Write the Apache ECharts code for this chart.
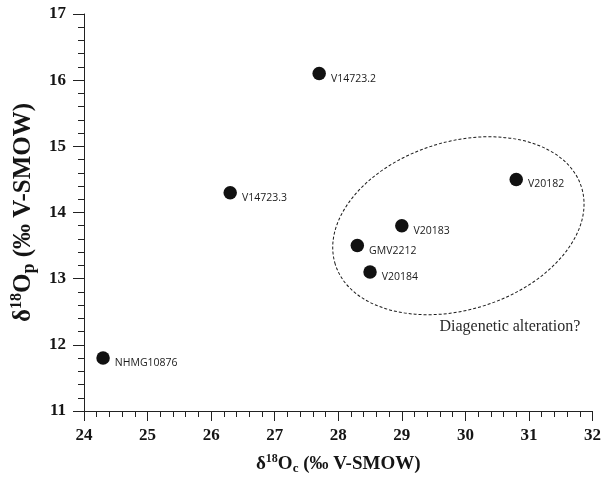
<!DOCTYPE html>
<html><head><meta charset="utf-8">
<script src="https://cdn.jsdelivr.net/npm/echarts@6/dist/echarts.min.js"></script>
<style>html,body{margin:0;padding:0;background:#fff}#c{width:604px;height:480px}</style>
</head><body><div id="c"></div><script>
// ---- data ----
const sampleNames = ['NHMG10876', 'V14723.3', 'V14723.2', 'GMV2212', 'V20184', 'V20183', 'V20182'];
const d18Oc = [24.3, 26.3, 27.7, 28.3, 28.5, 29.0, 30.8];
const d18Op = [11.8, 14.3, 16.1, 13.5, 13.1, 13.8, 14.5];
const xRange = [24, 32];
const yRange = [11, 17];
const ellipseCenter = [29.89, 13.80];
const annotationText = 'Diagenetic alteration?';
const annotationAnchor = [30.7, 12.28];

const points = sampleNames.map((n, i) => ({ name: n, value: [d18Oc[i], d18Op[i]] }));

const serif = 'Liberation Serif';
const ink = '#151515';
const tickLabel = { color: ink, fontFamily: serif, fontWeight: 'bold', fontSize: 17 };
function nameRich(size) {
  return {
    b: { fontFamily: serif, fontWeight: 'bold', fontSize: size, color: ink },
    sup: { fontFamily: serif, fontWeight: 'bold', fontSize: Math.round(size * 0.62), color: ink, padding: [0, 0, Math.round(size * 0.5), 0] },
    sub: { fontFamily: serif, fontWeight: 'bold', fontSize: Math.round(size * 0.7), color: ink, padding: [Math.round(size * 0.45), 0, 0, 0] }
  };
}

const chart = echarts.init(document.getElementById('c'), null, { renderer: 'canvas' });
chart.setOption({
  animation: false,
  backgroundColor: '#fff',
  grid: { left: 84, right: 9, top: 14, bottom: 68 },
  xAxis: {
    type: 'value', min: xRange[0], max: xRange[1], interval: 1,
    name: '{b|δ}{sup|18}{b|O}{sub|c}{b| (‰ V-SMOW)}',
    nameLocation: 'middle', nameGap: 42,
    nameTextStyle: { rich: nameRich(19) },
    axisLine: { show: true, lineStyle: { color: '#222', width: 1 } },
    axisTick: { show: true, length: 10, lineStyle: { color: '#222' } },
    minorTick: { show: true, splitNumber: 5, length: 6, lineStyle: { color: '#222' } },
    splitLine: { show: false },
    axisLabel: Object.assign({ margin: 16 }, tickLabel)
  },
  yAxis: {
    type: 'value', min: yRange[0], max: yRange[1], interval: 1,
    name: '{b|δ}{sup|18}{b|O}{sub|p}{b| (‰ V-SMOW)}',
    nameLocation: 'middle', nameGap: 44,
    nameTextStyle: { rich: nameRich(25) },
    axisLine: { show: true, lineStyle: { color: '#222', width: 1 } },
    axisTick: { show: true, length: 11, lineStyle: { color: '#222' } },
    minorTick: { show: true, splitNumber: 5, length: 6, lineStyle: { color: '#222' } },
    splitLine: { show: false },
    axisLabel: Object.assign({ margin: 18 }, tickLabel)
  },
  series: [
    {
      type: 'scatter',
      data: points,
      symbol: 'circle',
      symbolSize: 13.5,
      itemStyle: { color: '#111', opacity: 1 },
      label: {
        show: true, position: 'right', distance: 5, offset: [0, 5],
        formatter: p => p.name,
        fontFamily: 'Open Sans', fontSize: 10.5, color: '#1a1a1a'
      }
    },
    {
      type: 'custom',
      clip: false,
      silent: true,
      data: [ellipseCenter],
      renderItem: function (params, api) {
        const c = api.coord([api.value(0), api.value(1)]);
        return {
          type: 'ellipse',
          x: c[0], y: c[1],
          rotation: 17.4 * Math.PI / 180,
          shape: { cx: 0, cy: 0, rx: 129, ry: 84 },
          style: { fill: 'none', stroke: '#1a1a1a', lineWidth: 1, lineDash: [3, 2] }
        };
      }
    },
    {
      type: 'custom',
      clip: false,
      silent: true,
      data: [annotationAnchor],
      renderItem: function (params, api) {
        const c = api.coord([api.value(0), api.value(1)]);
        return {
          type: 'text',
          x: c[0], y: c[1],
          style: {
            text: annotationText, align: 'center', verticalAlign: 'middle',
            fontFamily: serif, fontSize: 16, fill: '#2a2a2a'
          }
        };
      }
    }
  ]
});
</script></body></html>
